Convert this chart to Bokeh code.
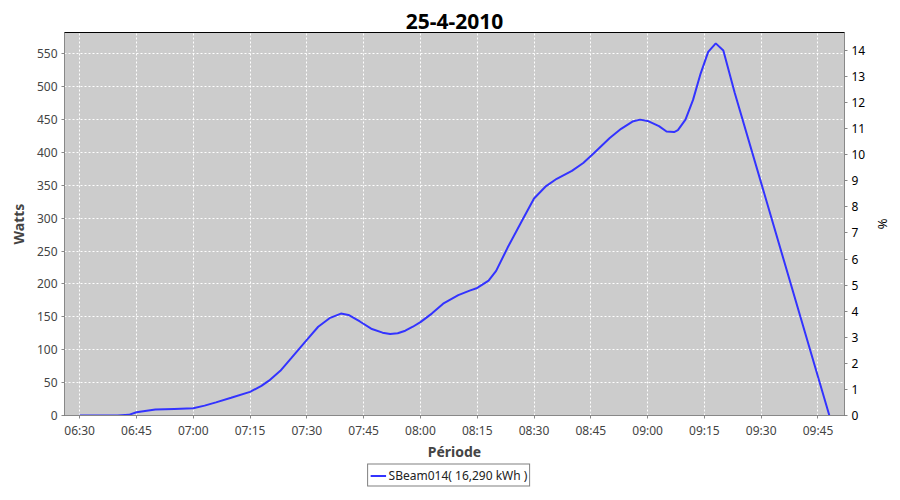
import pandas as pd
from bokeh.plotting import figure
from bokeh.layouts import column
from bokeh.models import (Range1d, LinearAxis, FixedTicker, DatetimeTickFormatter,
                          Legend, LegendItem, ColumnDataSource)
from bokeh.embed import file_html
from bokeh.resources import INLINE

DAY = "2010-04-25"
times = ["06:30", "06:35", "06:40", "06:43", "06:45", "06:50", "06:55", "07:00",
         "07:03", "07:06", "07:10", "07:15", "07:18", "07:20", "07:23", "07:26",
         "07:30", "07:33", "07:36", "07:39", "07:41", "07:44", "07:47", "07:50",
         "07:52", "07:54", "07:56", "07:58", "08:00", "08:03", "08:06", "08:10",
         "08:13", "08:15", "08:18", "08:20", "08:23", "08:27", "08:30", "08:33",
         "08:36", "08:40", "08:43", "08:46", "08:50", "08:53", "08:56", "08:58",
         "09:00", "09:03", "09:05", "09:07", "09:08", "09:10", "09:12", "09:14",
         "09:16", "09:18", "09:20", "09:23", "09:48"]
watts = [0, 0, 0, 1, 5, 9, 10, 11,
         15, 20, 27, 36, 45, 53, 68, 88,
         115, 135, 148, 155, 153, 143, 132, 126,
         124, 125, 129, 135, 142, 155, 170, 183,
         190, 194, 205, 220, 255, 298, 330, 348,
         360, 372, 384, 400, 422, 436, 447, 450,
         448, 440, 432, 431, 434, 450, 480, 520,
         553, 566, 555, 491, 0]
tick_labels = ["06:30", "06:45", "07:00", "07:15", "07:30", "07:45", "08:00",
               "08:15", "08:30", "08:45", "09:00", "09:15", "09:30", "09:45"]
x_start, x_end = "06:26", "09:52"
watts_max = 582.5
pct_max = 14.69
series_name = "SBeam014( 16,290 kWh )"
title_text = "25-4-2010"


def ts(hm):
    return pd.Timestamp(f"{DAY} {hm}")


def ms(hm):
    return ts(hm).value / 1e6


src = ColumnDataSource(dict(t=[ts(h) for h in times], w=watts))

FONT = "Noto Sans"
GREY_TXT = "#444444"
LINE_COLOR = "#3333ff"

p = figure(x_axis_type="datetime", output_backend="svg", toolbar_location=None,
           frame_width=780, frame_height=383,
           min_border_left=64, min_border_right=40, min_border_top=32, min_border_bottom=0,
           x_range=Range1d(ts(x_start), ts(x_end)), y_range=Range1d(0, watts_max),
           title=title_text)

p.title.align = "center"
p.title.text_font = FONT
p.title.text_font_size = "21px"
p.title.text_font_style = "bold"
p.title.text_color = "black"
p.title.standoff = 8

p.background_fill_color = "#cccccc"
p.border_fill_color = "white"
p.outline_line_color = "black"
p.outline_line_width = 1

p.extra_y_ranges = {"pct": Range1d(0, pct_max)}
raxis = LinearAxis(y_range_name="pct", axis_label="%")
p.add_layout(raxis, "right")

for g in (p.xgrid[0], p.ygrid[0]):
    g.grid_line_color = "white"
    g.grid_line_dash = "2 2"
    g.grid_line_width = 1

p.xaxis.ticker = FixedTicker(ticks=[ms(h) for h in tick_labels])
p.xaxis.formatter = DatetimeTickFormatter(minutes="%H:%M", hourmin="%H:%M", hours="%H:%M",
                                          minsec="%H:%M", context=None)
p.yaxis[0].ticker = FixedTicker(ticks=list(range(0, 551, 50)))
raxis.ticker = FixedTicker(ticks=list(range(0, 15)))

p.xaxis.axis_label = "Période"
p.yaxis[0].axis_label = "Watts"

for ax in [p.xaxis[0], p.yaxis[0], raxis]:
    ax.axis_line_color = "#888888"
    ax.major_tick_line_color = "#888888"
    ax.major_tick_in = 0
    ax.major_tick_out = 3
    ax.minor_tick_line_color = None
    ax.major_label_text_font = FONT
    ax.major_label_text_font_size = "12px"
    ax.major_label_text_color = GREY_TXT
    ax.major_label_standoff = 4
    ax.axis_label_text_font = FONT
    ax.axis_label_text_font_size = "14px"
    ax.axis_label_text_font_style = "bold"
    ax.axis_label_text_color = GREY_TXT
    ax.axis_label_standoff = 6
p.xaxis[0].major_label_standoff = 3
p.xaxis[0].axis_label_standoff = 0
raxis.major_label_text_color = "black"
raxis.axis_label_text_font_style = "normal"
raxis.axis_label_text_color = "black"
raxis.axis_label_text_font_size = "13px"
raxis.axis_label_standoff = 6

p.line("t", "w", source=src, line_color=LINE_COLOR, line_width=2)

# legend strip below the chart (same series; its line lies outside this strip's ranges)
lg = figure(width=884, height=24, output_backend="svg", toolbar_location=None,
            x_range=Range1d(0, 1), y_range=Range1d(0, 1),
            x_axis_location=None, y_axis_location=None,
            min_border_left=16, min_border_right=0, min_border_top=0, min_border_bottom=0)
lg.outline_line_color = None
lg.background_fill_color = "white"
lg.border_fill_color = "white"
lg.xgrid.visible = False
lg.ygrid.visible = False
lr = lg.line("t", "w", source=src, line_color=LINE_COLOR, line_width=2)

legend = Legend(items=[LegendItem(label=series_name, renderers=[lr])],
                location="center", orientation="horizontal")
legend.border_line_color = "black"
legend.border_line_width = 1
legend.background_fill_color = "white"
legend.label_text_font = FONT
legend.label_text_font_size = "12px"
legend.label_text_color = "#222222"
legend.glyph_width = 16
legend.glyph_height = 12
legend.padding = 2
legend.margin = 0
legend.spacing = 0
legend.label_standoff = 3
legend.label_height = 14
lg.add_layout(legend)

layout = column(p, lg, spacing=0)
open("out.html", "w").write(file_html(layout, INLINE))
